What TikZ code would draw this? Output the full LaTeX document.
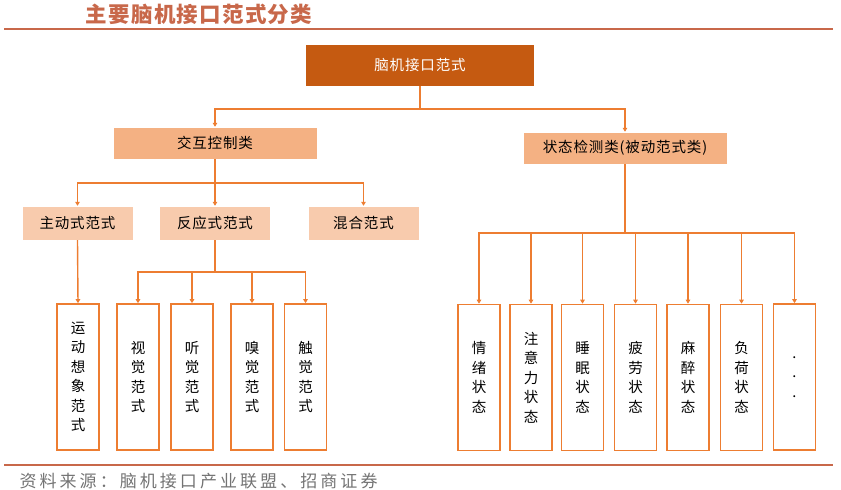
\documentclass[tikz,border=0pt]{standalone}
\usepackage{fontspec}
\setmainfont{Noto Sans CJK SC}
\usetikzlibrary{arrows.meta}
\definecolor{brick}{RGB}{200,104,74}
\definecolor{rootfill}{RGB}{197,90,17}
\definecolor{midfill}{RGB}{244,177,131}
\definecolor{lowfill}{RGB}{248,203,173}
\definecolor{linkcol}{RGB}{237,125,49}
\tikzset{
  boxfont/.style={font=\fontsize{14.5}{16}\selectfont\addfontfeatures{LetterSpace=6}},
  rootbox/.style={boxfont,fill=rootfill,draw=white,text=white,minimum width=229pt,minimum height=42pt},
  classbox/.style={boxfont,fill=midfill,draw=white,minimum width=204pt,minimum height=32pt},
  typebox/.style={boxfont,fill=lowfill,draw=white,minimum width=111pt,minimum height=34pt},
  leafbox/.style={draw=linkcol,line width=1.6pt,fill=white,minimum width=42pt,minimum height=146pt,inner sep=0pt,
    align=center,font=\fontsize{14.5}{19.5}\selectfont},
  link/.style={draw=linkcol,line width=1.4pt},
  arrow/.style={link,-{Triangle[length=4pt,width=4.5pt]}}
}
\begin{document}
\begin{tikzpicture}[x=1pt,y=-1pt]
\useasboundingbox (0,0) rectangle (841,490);
% titre et filets
\node[text=brick,font=\fontsize{21.5}{22}\selectfont\bfseries\addfontfeatures{LetterSpace=6}] (title) at (199,14) {主要脑机接口范式分类};
\draw[brick,line width=1.8pt] (4,29) -- (833,29);
\draw[brick,line width=1.8pt] (4,465) -- (833,465);
\node[text=black!55,anchor=west,font=\fontsize{17}{18}\selectfont\addfontfeatures{LetterSpace=18}] (src) at (16,481) {资料来源：脑机接口产业联盟、招商证券};
% niveaux
\node[rootbox] (root) at (420,65) {脑机接口范式};
\node[classbox] (ctrl) at (215,143) {交互控制类};
\node[classbox] (state) at (625,148) {状态检测类(被动范式类)};
\node[typebox] (active) at (77.5,223) {主动式范式};
\node[typebox] (react) at (215,223) {反应式范式};
\node[typebox] (mixed) at (363.5,223) {混合范式};
% feuilles gauche
\node[leafbox] (motor) at (78,377) {运\\动\\想\\象\\范\\式};
\node[leafbox] (vis) at (138,377) {视\\觉\\范\\式};
\node[leafbox] (aud) at (192,377) {听\\觉\\范\\式};
\node[leafbox] (olf) at (252,377) {嗅\\觉\\范\\式};
\node[leafbox] (tac) at (305.5,377) {触\\觉\\范\\式};
% feuilles droite
\node[leafbox] (emo) at (479,377.5) {情\\绪\\状\\态};
\node[leafbox] (att) at (531,377.5) {注\\意\\力\\状\\态};
\node[leafbox] (slp) at (582.5,377.5) {睡\\眠\\状\\态};
\node[leafbox] (fat) at (635.5,377.5) {疲\\劳\\状\\态};
\node[leafbox] (ana) at (688,377.5) {麻\\醉\\状\\态};
\node[leafbox] (load) at (741.5,377.5) {负\\荷\\状\\态};
\node[leafbox] (more) at (794.5,377) {.\\.\\.};
% bus
\coordinate (bus0) at (420,109);
\coordinate (bus1) at (215,183);
\coordinate (bus2) at (215,272);
\coordinate (bus3) at (625,233);
\draw[link] (root.south) -- (bus0);
\draw[arrow] (bus0) -| (ctrl.north);
\draw[arrow] (bus0) -| (state.north);
\draw[link] (ctrl.south) -- (bus1);
\foreach \n in {active,react,mixed} \draw[arrow] (bus1) -| (\n.north);
\draw[arrow] (active.south) -- (motor.north);
\draw[link] (react.south) -- (bus2);
\foreach \n in {vis,aud,olf,tac} \draw[arrow] (bus2) -| (\n.north);
\draw[link] (state.south) -- (bus3);
\foreach \n in {emo,att,slp,fat,ana,load,more} \draw[arrow] (bus3) -| (\n.north);
\end{tikzpicture}
\end{document}
